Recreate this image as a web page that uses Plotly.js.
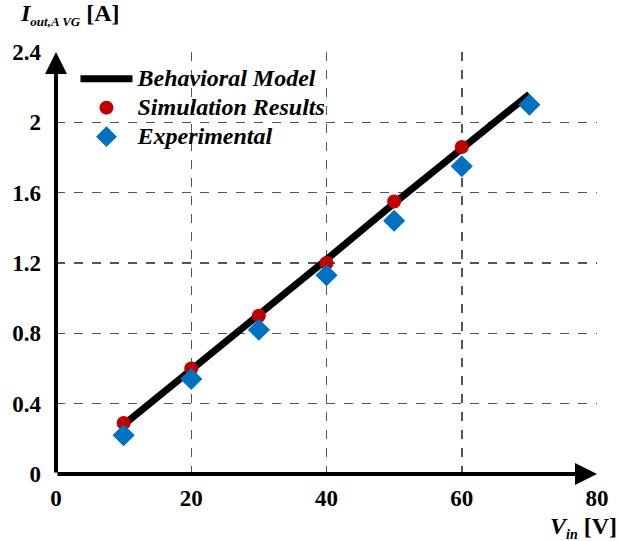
<!DOCTYPE html>
<html><head><meta charset="utf-8">
<script src="https://cdn.plot.ly/plotly-3.0.1.min.js"></script>
<style>body{margin:0;padding:0;background:#fff}#chart{width:619px;height:541px}</style>
</head><body><div id="chart"></div>
<script>
const vin = [10, 20, 30, 40, 50, 60, 70];
const modelI = [0.28, 0.59, 0.91, 1.22, 1.54, 1.85, 2.16];
const simVin = [10, 20, 30, 40, 50, 60];
const simI = [0.29, 0.60, 0.90, 1.20, 1.55, 1.86];
const expVin = [10, 20, 30, 40, 50, 60, 70];
const expI = [0.22, 0.54, 0.82, 1.13, 1.44, 1.75, 2.10];
const xTicks = [0, 20, 40, 60, 80];
const yTicks = [0, 0.4, 0.8, 1.2, 1.6, 2, 2.4];
const names = ['Behavioral Model', 'Simulation Results', 'Experimental'];

const F = '"Times New Roman", "Liberation Serif", serif';
const lbl = s => '<span style="font-size:24px"><b><i>' + s + '</i></b></span>';
const traces = [
  {x: vin, y: modelI, mode: 'lines', name: lbl(names[0]), line: {color: '#000', width: 7}},
  {x: simVin, y: simI, mode: 'markers', name: lbl(names[1]), marker: {color: '#C00000', size: 14, symbol: 'circle'}},
  {x: expVin, y: expI, mode: 'markers', name: lbl(names[2]), marker: {color: '#0070C0', size: 17, symbol: 'diamond'}}
];
const gridStyle = {showgrid: true, gridcolor: '#555', griddash: 'dash', gridwidth: 1.5, zeroline: false, showline: false, ticks: '',
  tickfont: {family: F, size: 23, color: '#000', weight: 'bold'}};
const layout = {
  width: 619, height: 541,
  margin: {l: 56, r: 22, t: 52, b: 67},
  paper_bgcolor: '#fff', plot_bgcolor: '#fff',
  font: {family: F, color: '#000'},
  xaxis: Object.assign({}, gridStyle, {range: [0, 80], tickvals: xTicks, ticktext: xTicks.map(String), ticklabelstandoff: 8}),
  yaxis: Object.assign({}, gridStyle, {range: [0, 2.4], tickvals: yTicks, ticktext: yTicks.map(String), ticklabelstandoff: 14}),
  showlegend: true,
  legend: {x: 0.036, y: 0.983, xanchor: 'left', yanchor: 'top', bgcolor: 'rgba(255,255,255,0)', font: {family: F, size: 20, color: '#000'}, itemwidth: 52, tracegroupgap: 0},
  annotations: [
    {x: 80, y: 0, ax: 0, ay: 0, xref: 'x', yref: 'y', axref: 'x', ayref: 'y', showarrow: true, arrowhead: 2, arrowsize: 1.1, arrowwidth: 4, arrowcolor: '#000', text: ''},
    {x: 0, y: 2.4, ax: 0, ay: 0, xref: 'x', yref: 'y', axref: 'x', ayref: 'y', showarrow: true, arrowhead: 2, arrowsize: 1.1, arrowwidth: 4, arrowcolor: '#000', text: ''},
    {xref: 'paper', yref: 'paper', x: -0.07, y: 1.05, xanchor: 'left', yanchor: 'bottom', showarrow: false,
     text: '<b><i>I</i></b><sub><b><i><span style="font-size:13px">out,A VG</span></i></b></sub><b> [A]</b>', font: {family: F, size: 24, color: '#000'}},
    {xref: 'paper', yref: 'paper', x: 1.04, y: -0.088, xanchor: 'right', yanchor: 'top', showarrow: false,
     text: '<b><i>V</i></b><sub><b><i><span style="font-size:14px">in</span></i></b></sub><b> [V]</b>', font: {family: F, size: 24, color: '#000'}}
  ]
};
Plotly.newPlot('chart', traces, layout, {displayModeBar: false, staticPlot: true});
</script></body></html>
